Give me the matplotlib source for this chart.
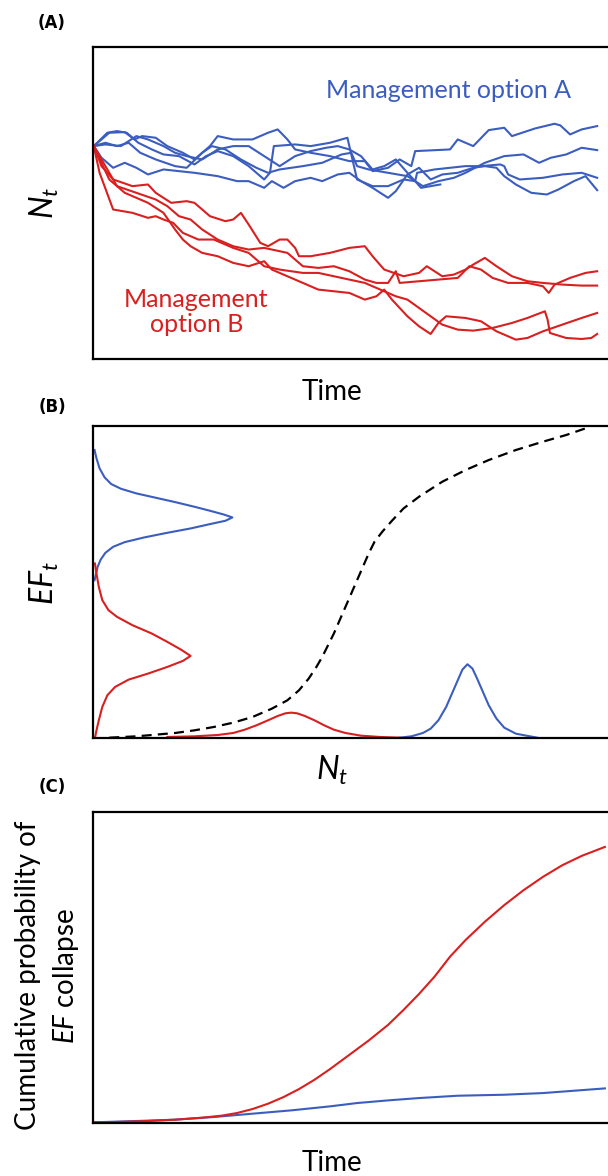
import matplotlib
matplotlib.use('Agg')
import matplotlib.pyplot as plt

plt.rcParams['font.family'] = ['Lato', 'DejaVu Sans']
plt.rcParams['mathtext.fontset'] = 'custom'
plt.rcParams['mathtext.rm'] = 'Lato'
plt.rcParams['mathtext.it'] = 'Lato:italic'

BLUE = '#3b5dbf'
RED = '#d91f1f'

# ---- panel A: population trajectories (arbitrary units) ----
a_blue_t = [
    [0,20,40,80,105,125,160,190,230,260,300,320,360,410,450,475,500,520,560,610,660,700,720,760,790,820,830,920,940,980,1020,1060,1080,1140,1190,1205,1230,1260,1300],
    [0,30,60,90,120,160,210,240,280,305,340,380,420,450,480,540,590,640,665,680,710,760,810,850,890,930,960,1010,1060,1110,1150,1180,1220,1260,1300],
    [0,20,50,80,110,140,180,220,260,320,370,400,440,460,490,520,560,590,630,660,690,720,760,780,810,840,870,900,940,980,1010,1040,1060,1090,1130,1170,1200,1240,1270,1300],
    [0,35,60,85,115,150,180,220,260,290,320,360,400,440,455,465,520,560,610,640,655,680,720,760,800,830,835,880,920,960,1000,1050,1060,1070,1100,1160,1210,1260,1300],
    [0,30,70,110,140,180,210,240,280,320,360,400,440,480,520,560,600,630,660,690,720,750,780,810,830,845,870,895],
]
a_blue_n = [
    [638,658,678,680,658,668,663,638,618,598,638,668,658,658,678,688,658,628,618,608,593,593,563,573,598,578,623,628,658,638,686,693,668,691,705,700,673,688,698],
    [638,648,638,648,618,598,578,573,618,638,628,598,573,558,568,578,588,613,618,578,568,558,548,518,533,543,558,588,608,613,588,603,613,633,626],
    [638,603,573,588,573,553,568,563,558,548,533,533,513,533,513,533,543,533,553,558,533,513,483,503,553,573,538,553,558,573,578,573,548,523,498,493,508,533,548,506],
    [638,678,683,678,648,628,613,608,583,608,623,608,578,538,558,638,643,638,648,658,663,538,518,518,538,533,558,568,573,578,578,583,578,553,538,543,553,558,543],
    [638,643,638,668,658,638,618,608,598,628,638,638,608,578,608,623,633,638,628,608,568,578,598,558,533,513,518,523],
]
a_red_t = [
    [0,20,50,100,140,160,200,240,260,300,340,360,380,400,430,450,480,500,520,530,560,610,660,700,720,750,800,840,860,900,930,960,980,1010,1040,1080,1120,1160,1210,1260,1300],
    [0,60,110,160,190,220,250,280,320,360,400,440,460,500,540,580,620,660,700,730,760,780,790,840,890,940,970,1000,1030,1070,1120,1160,1175,1190,1230,1270,1300],
    [0,40,80,140,180,210,230,250,280,320,360,400,440,460,500,540,580,620,660,700,730,750,770,810,840,870,890,910,960,1000,1040,1090,1120,1160,1210,1260,1300],
    [0,15,50,100,140,160,180,205,230,270,310,360,400,440,480,540,580,620,660,700,740,780,810,840,900,940,980,1030,1080,1120,1165,1172,1178,1220,1260,1285,1300],
]
a_red_n = [
    [638,578,538,518,523,498,468,473,468,428,413,418,438,403,348,338,358,358,333,308,308,318,333,338,308,268,248,258,278,248,253,268,283,303,278,248,233,228,223,220,220],
    [638,518,498,478,458,428,418,388,358,338,328,333,328,318,278,273,278,263,238,228,228,263,228,233,238,243,278,268,243,228,228,218,198,223,243,258,263],
    [638,538,498,468,438,388,358,338,318,308,288,278,293,268,248,228,208,203,198,178,188,208,178,128,98,75,108,128,123,113,83,58,63,83,103,123,138],
    [638,558,448,438,423,428,418,408,378,358,358,333,318,278,268,258,258,248,238,228,208,188,178,153,103,88,85,93,108,123,143,118,78,63,60,63,75],
]

# ---- panel B: EF vs N relationship and distributions ----
b_curve_n = [40,110,160,210,260,310,360,410,460,500,530,555,575,590,605,620,635,650,665,680,
             695,710,725,745,770,800,840,900,960,1020,1090,1160,1220,1270]
b_curve_ef = [1,5,10,15,23,33,46,63,88,113,143,178,213,243,278,313,353,393,433,473,
              513,553,588,618,651,688,723,768,803,833,863,888,908,928]
b_red_n = [190,260,320,360,390,420,450,475,495,510,525,545,570,595,620,650,690,740,790]
b_red_dens = [3,5,9,15,25,38,53,66,74,76,74,66,53,38,25,15,7,3,1]
b_blue_n = [790,820,850,870,890,910,925,940,952,965,978,990,1005,1020,1040,1060,1090,1145]
b_blue_dens = [1,5,15,28,53,93,133,173,205,221,208,178,138,98,58,31,13,1]
b_blue_ef = [863,838,808,781,761,747,733,720,707,693,681,670,661,651,641,628,615,601,587,573,
             555,535,513,488,473]
b_blue_efdens = [2,7,15,28,45,70,110,160,210,260,300,335,358,340,300,250,190,130,80,50,
                 30,18,10,5,2]
b_red_ef = [523,493,453,413,383,363,338,313,288,265,246,231,213,193,175,153,128,93,53,23,0]
b_red_efdens = [3,7,13,22,38,60,100,150,190,225,250,230,190,140,90,55,35,22,13,7,3]

# ---- panel C: cumulative probability of EF collapse ----
c_red_t = [0,60,140,210,280,330,370,410,450,490,530,570,610,660,710,760,800,840,880,920,
           960,1010,1060,1110,1160,1210,1260,1320]
c_red_p = [2,3,6,10,16,22,30,42,58,78,102,130,162,205,248,295,340,388,440,500,
           550,605,655,700,740,775,803,830]
c_blue_t = [0,110,210,310,410,510,610,680,760,840,940,1060,1160,1240,1320]
c_blue_p = [2,6,10,18,28,38,50,60,68,75,82,85,90,97,104]

W, H = 608, 1176
fig = plt.figure(figsize=(W/100, H/100), dpi=100)

def box(top, bottom):
    ax = fig.add_axes([93/W, 1-bottom/H, (W-93)/W, (bottom-top)/H])
    ax.set_xticks([])
    ax.set_yticks([])
    for s in ['left', 'top', 'bottom']:
        ax.spines[s].set_linewidth(1.6)
    ax.spines['right'].set_visible(False)
    ax.set_xlim(-2, 1328)
    ax.set_ylim(0, 935)
    return ax

def px(x, y):
    return x/W, 1-y/H

# panel A
axA = box(47, 359)
for t, n in zip(a_blue_t, a_blue_n):
    axA.plot(t, n, color=BLUE, lw=1.5, solid_joinstyle='round')
for t, n in zip(a_red_t, a_red_n):
    axA.plot(t, n, color=RED, lw=1.5, solid_joinstyle='round')
axA.text(600, 806, 'Management option A', color=BLUE, fontsize=18, ha='left', va='center')
axA.text(265, 141, 'Management\noption B', color=RED, fontsize=18, ha='center', va='center',
         linespacing=1.15)

# panel B
axB = box(426, 738)
axB.plot(b_curve_n, b_curve_ef, color='black', lw=1.6, ls=(0, (4.5, 2.8)))
axB.plot(b_red_n, b_red_dens, color=RED, lw=1.5)
axB.plot(b_blue_n, b_blue_dens, color=BLUE, lw=1.5)
axB.plot(b_blue_efdens, b_blue_ef, color=BLUE, lw=1.5)
axB.plot(b_red_efdens, b_red_ef, color=RED, lw=1.5)

# panel C
axC = box(812, 1123)
axC.plot(c_blue_t, c_blue_p, color=BLUE, lw=1.5)
axC.plot(c_red_t, c_red_p, color=RED, lw=1.5)

# labels
for lab, y in [('(A)', 23), ('(B)', 407), ('(C)', 787)]:
    fig.text(*px(52, y), lab, fontsize=12, fontweight='bold', family='DejaVu Sans',
             ha='center', va='center')

fig.text(*px(332, 392), 'Time', fontsize=20, ha='center', va='center')
fig.text(*px(332, 770), r'$N_t$', fontsize=23, ha='center', va='center')
fig.text(*px(332, 1163), 'Time', fontsize=20, ha='center', va='center')
fig.text(*px(44, 203), r'$N_t$', fontsize=23, rotation=90, ha='center', va='center')
fig.text(*px(44, 583), r'$EF_t$', fontsize=23, rotation=90, ha='center', va='center')
fig.text(*px(28, 975), 'Cumulative probability of', fontsize=20, rotation=90,
         ha='center', va='center')
fig.text(*px(66, 976), r'$\it{EF}$ collapse', fontsize=20, rotation=90,
         ha='center', va='center')

fig.savefig('out.png', dpi=100)
